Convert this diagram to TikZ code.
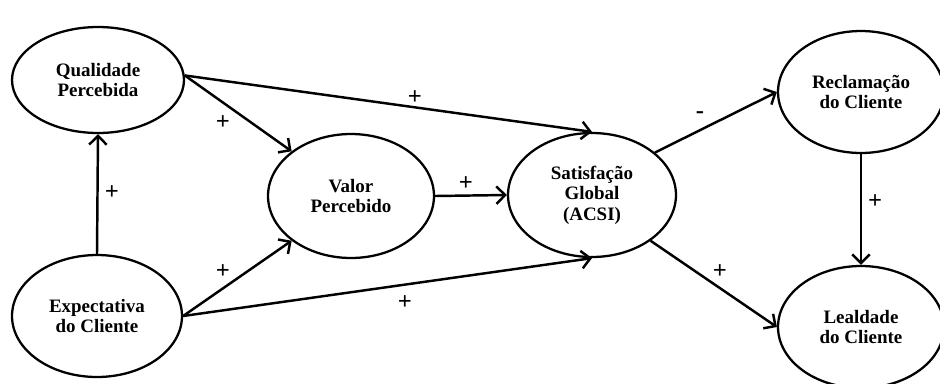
\documentclass[tikz,border=0pt]{standalone}
\usepackage{fontspec}
\setmainfont{Liberation Serif}
\usetikzlibrary{shapes.geometric, arrows.meta}

\begin{document}
\begin{tikzpicture}[x=0.02cm, y=-0.02cm]
		\useasboundingbox (0,0) rectangle (940,383);
		\begin{scope}[every node/.style={draw, ellipse, line width=1.3pt, inner sep=0, align=center, font=\fontsize{10.8}{11.6}\selectfont\bfseries}]
		\node[minimum width=3.44cm, minimum height=2.12cm] (qual) at (98,80) {Qualidade\\Percebida};
		\node[minimum width=3.4cm, minimum height=2.44cm] (expe) at (97,316) {Expectativa\\do Cliente};
		\node[minimum width=3.32cm, minimum height=2.48cm] (valor) at (351,196) {Valor\\Percebido};
		\node[minimum width=3.36cm, minimum height=2.48cm] (sat) at (592,195) {Satisfação\\Global\\(ACSI)};
		\node[minimum width=3.32cm, minimum height=2.44cm] (recl) at (861,92) {Reclamação\\do Cliente};
		\node[minimum width=3.32cm, minimum height=2.44cm] (leal) at (861,327) {Lealdade\\do Cliente};
		\end{scope}
		
		\begin{scope}[every node/.style={font=\fontsize{14}{14}\selectfont\bfseries, inner sep=0}]
		\node (s1) at (112,193) {+};
		\node (s2) at (223,123) {+};
		\node (s3) at (415,98) {+};
		\node (s4) at (223,272) {+};
		\node (s5) at (405,303) {+};
		\node (s6) at (466,184) {+};
		\node (s7) at (700,115) {-};
		\node (s8) at (720,272) {+};
		\node (s9) at (875,202) {+};
		\end{scope}
		
		\draw[-{Straight Barb[length=5pt, width=10pt]}, line width=1.4pt] (expe.north) -- (qual.south);
		\draw[-{Straight Barb[length=5pt, width=10pt]}, line width=1.4pt] (qual.3) -- (valor.143);
		\draw[-{Straight Barb[length=5pt, width=10pt]}, line width=1.4pt] (qual.3) -- (sat.north);
		\draw[-{Straight Barb[length=5pt, width=10pt]}, line width=1.4pt] (expe.east) -- (valor.217);
		\draw[-{Straight Barb[length=5pt, width=10pt]}, line width=1.4pt] (expe.east) -- (sat.south);
		\draw[-{Straight Barb[length=5pt, width=10pt]}, line width=1.4pt] (valor.east) -- (sat.west);
		\draw[-{Straight Barb[length=5pt, width=10pt]}, line width=1.4pt] (sat.34) -- (recl.west);
		\draw[-{Straight Barb[length=5pt, width=10pt]}, line width=1.4pt] (sat.322) -- (leal.west);
		\draw[-{Straight Barb[length=5pt, width=10pt]}, line width=1.4pt] (recl.south) -- (leal.north);
\end{tikzpicture}
\end{document}
